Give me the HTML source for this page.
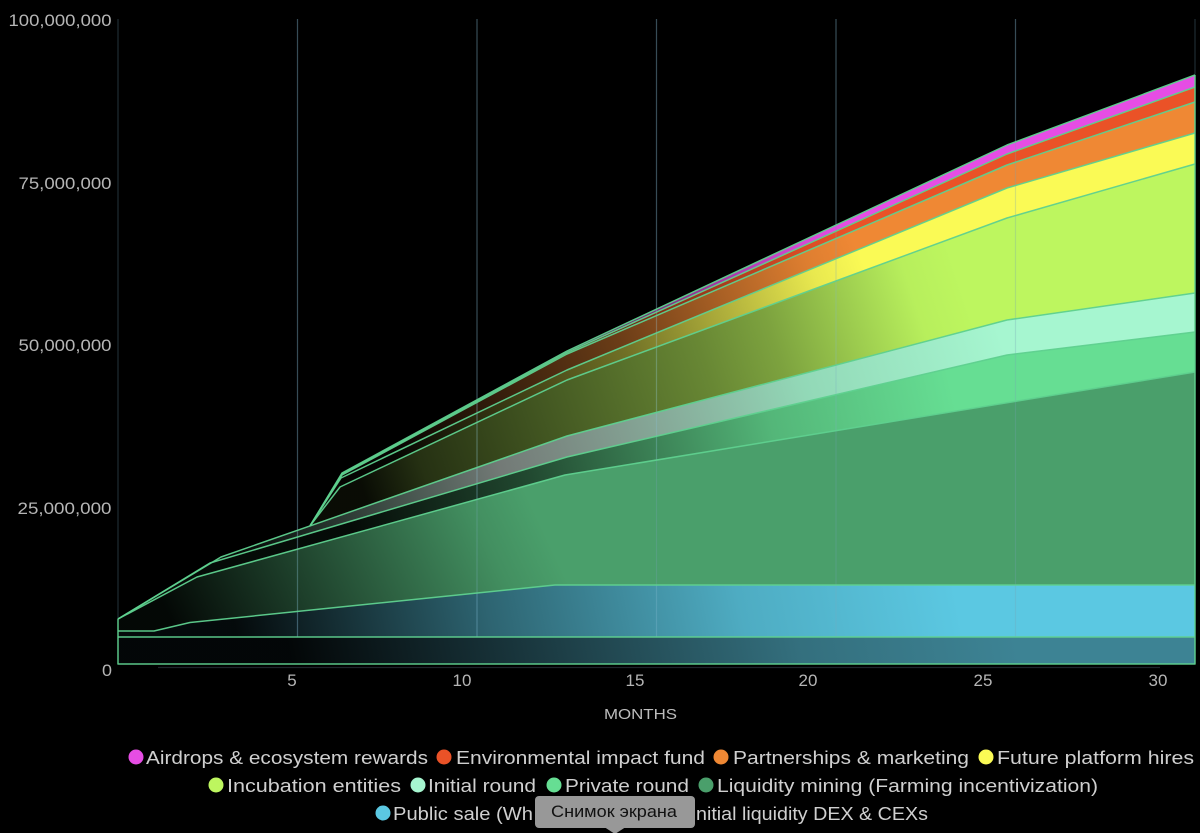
<!DOCTYPE html>
<html>
<head>
<meta charset="utf-8">
<style>
  html, body { margin:0; padding:0; background:#000; }
  body { width:1200px; height:833px; overflow:hidden; }
  svg { display:block; }
  text { font-family:"Liberation Sans", "DejaVu Sans", sans-serif; }
</style>
</head>
<body>
<svg width="1200" height="833" viewBox="0 0 1200 833" xmlns="http://www.w3.org/2000/svg">
  <defs>
    <linearGradient id="g1" gradientUnits="userSpaceOnUse" x1="300" y1="700" x2="1000" y2="560">
      <stop offset="0" stop-color="#3d8394" stop-opacity="0.05"/>
      <stop offset="0.35" stop-color="#3d8394" stop-opacity="0.45"/>
      <stop offset="0.7" stop-color="#3d8394" stop-opacity="0.85"/>
      <stop offset="1" stop-color="#3d8394" stop-opacity="1"/>
    </linearGradient>
    <linearGradient id="g2" gradientUnits="userSpaceOnUse" x1="250" y1="700" x2="950" y2="560">
      <stop offset="0" stop-color="#5bc8e2" stop-opacity="0.05"/>
      <stop offset="0.35" stop-color="#5bc8e2" stop-opacity="0.5"/>
      <stop offset="0.7" stop-color="#5bc8e2" stop-opacity="0.86"/>
      <stop offset="1" stop-color="#5bc8e2" stop-opacity="1"/>
    </linearGradient>
    <linearGradient id="g3" gradientUnits="userSpaceOnUse" x1="180" y1="640" x2="520" y2="480">
      <stop offset="0" stop-color="#4a9f6b" stop-opacity="0.05"/>
      <stop offset="0.4" stop-color="#4a9f6b" stop-opacity="0.45"/>
      <stop offset="0.85" stop-color="#4a9f6b" stop-opacity="0.9"/>
      <stop offset="1" stop-color="#4a9f6b" stop-opacity="1"/>
    </linearGradient>
    <linearGradient id="g4" gradientUnits="userSpaceOnUse" x1="350" y1="520" x2="950" y2="380">
      <stop offset="0" stop-color="#66de93" stop-opacity="0.05"/>
      <stop offset="0.3" stop-color="#66de93" stop-opacity="0.33"/>
      <stop offset="0.7" stop-color="#66de93" stop-opacity="0.82"/>
      <stop offset="1" stop-color="#66de93" stop-opacity="1"/>
    </linearGradient>
    <linearGradient id="g5" gradientUnits="userSpaceOnUse" x1="250" y1="560" x2="1000" y2="330">
      <stop offset="0" stop-color="#a6f6d0" stop-opacity="0.04"/>
      <stop offset="0.34" stop-color="#c6d2cc" stop-opacity="0.58"/>
      <stop offset="0.74" stop-color="#a6f6d0" stop-opacity="0.88"/>
      <stop offset="1" stop-color="#a6f6d0" stop-opacity="1"/>
    </linearGradient>
    <linearGradient id="g6" gradientUnits="userSpaceOnUse" x1="350" y1="450" x2="950" y2="250">
      <stop offset="0" stop-color="#bdf65f" stop-opacity="0.05"/>
      <stop offset="0.1" stop-color="#bdf65f" stop-opacity="0.2"/>
      <stop offset="0.575" stop-color="#bdf65f" stop-opacity="0.55"/>
      <stop offset="0.69" stop-color="#bdf65f" stop-opacity="0.66"/>
      <stop offset="0.92" stop-color="#bdf65f" stop-opacity="0.97"/>
      <stop offset="1" stop-color="#bdf65f" stop-opacity="1"/>
    </linearGradient>
    <linearGradient id="g7" gradientUnits="userSpaceOnUse" x1="380" y1="420" x2="850" y2="230">
      <stop offset="0" stop-color="#fafa55" stop-opacity="0.02"/>
      <stop offset="0.5" stop-color="#fafa55" stop-opacity="0.45"/>
      <stop offset="0.9" stop-color="#fafa55" stop-opacity="0.93"/>
      <stop offset="1" stop-color="#fafa55" stop-opacity="1"/>
    </linearGradient>
    <linearGradient id="g8" gradientUnits="userSpaceOnUse" x1="380" y1="420" x2="850" y2="230">
      <stop offset="0" stop-color="#ef8834" stop-opacity="0.02"/>
      <stop offset="0.5" stop-color="#ef8834" stop-opacity="0.45"/>
      <stop offset="0.9" stop-color="#ef8834" stop-opacity="0.93"/>
      <stop offset="1" stop-color="#ef8834" stop-opacity="1"/>
    </linearGradient>
    <linearGradient id="g9" gradientUnits="userSpaceOnUse" x1="380" y1="420" x2="850" y2="230">
      <stop offset="0" stop-color="#ea5227" stop-opacity="0.02"/>
      <stop offset="0.5" stop-color="#ea5227" stop-opacity="0.45"/>
      <stop offset="0.9" stop-color="#ea5227" stop-opacity="0.93"/>
      <stop offset="1" stop-color="#ea5227" stop-opacity="1"/>
    </linearGradient>
    <linearGradient id="g10" gradientUnits="userSpaceOnUse" x1="380" y1="420" x2="850" y2="230">
      <stop offset="0" stop-color="#e64de4" stop-opacity="0.02"/>
      <stop offset="0.5" stop-color="#e64de4" stop-opacity="0.45"/>
      <stop offset="0.9" stop-color="#e64de4" stop-opacity="0.93"/>
      <stop offset="1" stop-color="#e64de4" stop-opacity="1"/>
    </linearGradient>
  </defs>

  <rect x="0" y="0" width="1200" height="833" fill="#000"/>

  <!-- grid lines above data area -->
  <g stroke="#1f2b33" stroke-width="1.2">
    <line x1="118" y1="19" x2="118" y2="619"/>
    <line x1="297.5" y1="19" x2="297.5" y2="637"/>
    <line x1="477" y1="19" x2="477" y2="637"/>
    <line x1="656.5" y1="19" x2="656.5" y2="637"/>
    <line x1="836" y1="19" x2="836" y2="637"/>
    <line x1="1015.5" y1="19" x2="1015.5" y2="637"/>
    <line x1="1195" y1="19" x2="1195" y2="75"/>
  </g>

  <!-- bands -->
  <path fill="url(#g1)" d="M118,637 L1195,637 L1195,664 L118,664 Z"/>
  <path fill="url(#g2)" d="M118,631 L154,631 L190,622.5 L555,585 L1195,585 L1195,637 L118,637 Z"/>
  <path fill="url(#g3)" d="M118,619 L197,577 L565,475 L1195,372 L1195,585 L555,585 L190,622.5 L154,631 L118,631 Z"/>
  <path fill="url(#g4)" d="M118,619 L210,563 L567,457 L1007,355 L1195,332 L1195,372 L565,475 L197,577 L118,619 Z"/>
  <path fill="url(#g5)" d="M118,619 L221,557 L310,525.9 L567,436 L1007,320 L1195,293 L1195,332 L1007,355 L567,457 L210,563 L118,619 Z"/>
  <path fill="url(#g6)" d="M310,525.9 L340,487 L567,380 L1007,218 L1195,164 L1195,293 L1007,320 L567,436 Z"/>
  <path fill="url(#g7)" d="M310,525.9 L341,478 L567,370 L1007,188 L1195,133 L1195,164 L1007,218 L567,380 L340,487 Z"/>
  <path fill="url(#g8)" d="M310,525.9 L342,475 L567,354 L1007,165 L1195,102 L1195,133 L1007,188 L567,370 L341,478 Z"/>
  <path fill="url(#g9)" d="M310,525.9 L342,474 L567,352.5 L1007,154 L1195,87 L1195,102 L1007,165 L567,354 L342,475 Z"/>
  <path fill="url(#g10)" d="M310,525.9 L342,473 L567,351 L1007,145 L1195,75 L1195,87 L1007,154 L567,352.5 L342,474 Z"/>

  <!-- grid lines over data (translucent) -->
  <g stroke="rgba(120,160,180,0.28)" stroke-width="1.2">
    <line x1="297.5" y1="19" x2="297.5" y2="637"/>
    <line x1="477" y1="19" x2="477" y2="637"/>
    <line x1="656.5" y1="19" x2="656.5" y2="637"/>
    <line x1="836" y1="19" x2="836" y2="637"/>
    <line x1="1015.5" y1="19" x2="1015.5" y2="637"/>
  </g>

  <!-- series strokes -->
  <g fill="none" stroke="#5fd18f" stroke-width="1.5" stroke-linejoin="round" stroke-opacity="0.95">
    <path d="M118,637 H1195"/>
    <path d="M118,631 L154,631 L190,622.5 L555,585 L1195,585"/>
    <path d="M118,619 L197,577 L565,475 L1195,372"/>
    <path d="M118,619 L210,563 L567,457 L1007,355 L1195,332"/>
    <path d="M118,619 L221,557 L310,525.9 L567,436 L1007,320 L1195,293"/>
    <path d="M310,525.9 L340,487 L567,380 L1007,218 L1195,164"/>
    <path d="M310,525.9 L341,478 L567,370 L1007,188 L1195,133"/>
    <path d="M310,525.9 L342,475 L567,354 L1007,165 L1195,102"/>
    <path d="M310,525.9 L342,474 L567,352.5 L1007,154 L1195,87"/>
    <path d="M310,525.9 L342,473 L567,351 L1007,145 L1195,75"/>
    <path d="M118,619 V664 H1195 V75"/>
  </g>

  <!-- x axis line -->
  <line x1="158" y1="667.5" x2="1160" y2="667.5" stroke="#1e252b" stroke-width="1.2"/>

  <!-- y labels -->
  <g fill="#b5b5b5" font-size="17" text-anchor="start">
    <text x="8.5" y="26" textLength="103" lengthAdjust="spacingAndGlyphs">100,000,000</text>
    <text x="18.5" y="189" textLength="93" lengthAdjust="spacingAndGlyphs">75,000,000</text>
    <text x="18.5" y="351" textLength="93" lengthAdjust="spacingAndGlyphs">50,000,000</text>
    <text x="17.5" y="514" textLength="94" lengthAdjust="spacingAndGlyphs">25,000,000</text>
    <text x="102" y="676" textLength="10" lengthAdjust="spacingAndGlyphs">0</text>
  </g>

  <!-- x labels -->
  <g fill="#b5b5b5" font-size="17" text-anchor="middle">
    <text x="292" y="686">5</text>
    <text x="462" y="686">10</text>
    <text x="635" y="686">15</text>
    <text x="808" y="686">20</text>
    <text x="983" y="686">25</text>
    <text x="1158" y="686">30</text>
  </g>
  <text x="604" y="719" fill="#bdbdbd" font-size="15" textLength="73" lengthAdjust="spacingAndGlyphs">MONTHS</text>

  <!-- legend -->
  <g font-size="18" fill="#cfcfcf">
    <circle cx="136" cy="757" r="7.5" fill="#e64de4"/>
    <text x="146" y="764" textLength="282" lengthAdjust="spacingAndGlyphs">Airdrops &amp; ecosystem rewards</text>
    <circle cx="444" cy="757" r="7.5" fill="#ea5227"/>
    <text x="456" y="764" textLength="249" lengthAdjust="spacingAndGlyphs">Environmental impact fund</text>
    <circle cx="721" cy="757" r="7.5" fill="#ef8834"/>
    <text x="733" y="764" textLength="236" lengthAdjust="spacingAndGlyphs">Partnerships &amp; marketing</text>
    <circle cx="986" cy="757" r="7.5" fill="#fafa55"/>
    <text x="997" y="764" textLength="197" lengthAdjust="spacingAndGlyphs">Future platform hires</text>

    <circle cx="216" cy="785" r="7.5" fill="#bdf65f"/>
    <text x="227" y="792" textLength="174" lengthAdjust="spacingAndGlyphs">Incubation entities</text>
    <circle cx="418" cy="785" r="7.5" fill="#a6f6d0"/>
    <text x="428" y="792" textLength="108" lengthAdjust="spacingAndGlyphs">Initial round</text>
    <circle cx="554" cy="785" r="7.5" fill="#66de93"/>
    <text x="565" y="792" textLength="124" lengthAdjust="spacingAndGlyphs">Private round</text>
    <circle cx="706" cy="785" r="7.5" fill="#4a9f6b"/>
    <text x="717" y="792" textLength="381" lengthAdjust="spacingAndGlyphs">Liquidity mining (Farming incentivization)</text>

    <circle cx="383" cy="813" r="7.5" fill="#5bc8e2"/>
    <text x="393" y="820" textLength="140" lengthAdjust="spacingAndGlyphs">Public sale (Wh</text>
    <text x="535" y="820" textLength="160" lengthAdjust="spacingAndGlyphs">itelist, IDO) &amp; i</text>
    <text x="696" y="820" textLength="232" lengthAdjust="spacingAndGlyphs">nitial liquidity DEX &amp; CEXs</text>
  </g>

  <!-- screenshot tooltip overlay -->
  <rect x="535" y="796" width="160" height="32" rx="4" ry="4" fill="#989898"/>
  <path d="M605,827.5 L625,827.5 L615,834 Z" fill="#989898"/>
  <text x="551" y="817" fill="#111" font-size="17" textLength="126" lengthAdjust="spacingAndGlyphs">Снимок экрана</text>
</svg>
</body>
</html>
